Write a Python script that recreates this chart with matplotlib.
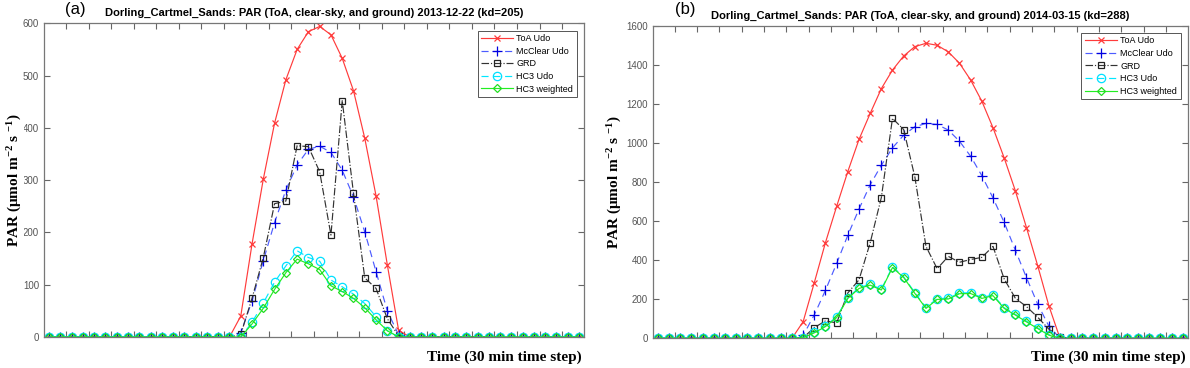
import numpy as np
import matplotlib
matplotlib.use("Agg")
import matplotlib.pyplot as plt

plt.rcParams['font.family'] = ['Liberation Sans', 'DejaVu Sans']
plt.rcParams['mathtext.fontset'] = 'custom'
plt.rcParams['mathtext.rm'] = 'Liberation Serif:bold'
plt.rcParams['mathtext.it'] = 'Liberation Serif:bold'
plt.rcParams['mathtext.bf'] = 'Liberation Serif:bold'

# half-hour steps, 48 per day
steps = np.arange(1, 49)

def day(vals, start):
    out = np.zeros(48)
    out[start - 1:start - 1 + len(vals)] = vals
    return out

# (a) 2013-12-22
toa_a = day([40, 178, 302, 409, 492, 550, 584, 594, 578, 533, 471, 380, 270, 138, 13], 18)
mcc_a = day([8, 69, 146, 219, 281, 329, 359, 365, 353, 319, 268, 201, 125, 50, 4], 18)
grd_a = day([5, 74, 152, 255, 260, 366, 364, 316, 195, 452, 275, 113, 93, 35, 2], 18)
hc3_a = day([28, 65, 105, 136, 165, 152, 145, 109, 96, 82, 64, 39, 12], 19)
hcw_a = day([25, 55, 91, 123, 149, 140, 129, 98, 87, 74, 56, 33, 12], 19)

# (b) 2014-03-15
toa_b = day([85, 285, 490, 675, 853, 1017, 1150, 1277, 1372, 1444, 1492, 1509, 1499,
             1465, 1407, 1321, 1213, 1077, 923, 755, 566, 372, 167], 14)
mcc_b = day([15, 120, 246, 383, 527, 661, 785, 885, 974, 1039, 1082, 1099, 1094,
             1065, 1008, 931, 832, 718, 593, 451, 310, 175, 63], 14)
grd_b = day([3, 55, 89, 79, 232, 299, 488, 720, 1125, 1068, 826, 470, 356, 419,
             389, 403, 414, 470, 304, 205, 162, 108, 47, 8], 14)
hc3_b = day([4, 31, 64, 110, 208, 259, 276, 251, 366, 315, 234, 157, 203, 205,
             232, 233, 208, 222, 157, 123, 88, 54, 19], 14)
hcw_b = day([3, 28, 60, 106, 204, 255, 272, 247, 362, 311, 230, 153, 199, 201,
             228, 229, 204, 218, 153, 119, 84, 50, 16], 14)

series_names = ['ToA Udo', 'McClear Udo', 'GRD', 'HC3 Udo', 'HC3 weighted']
styles = [
    dict(color='#ff3b3b', ls='-', marker='x', mec='#ff3b3b'),
    dict(color='#4d5cff', ls=(0, (6, 4)), marker='+', mec='#0000e0'),
    dict(color='#333333', ls='-.', marker='s', mec='#222222', mfc='none'),
    dict(color='#00e8ff', ls=(0, (6, 4)), marker='o', mec='#00e0ff', mfc='none'),
    dict(color='#22ee22', ls='-', marker='D', mec='#22dd22', mfc='none'),
]
marker_sizes = [5, 7, 4.5, 6, 4]

panels = [
    dict(pos=[0.037, 0.0842, 0.4538, 0.8525], data=[toa_a, mcc_a, grd_a, hc3_a, hcw_a],
         ylim=(0, 600), yticks=np.arange(0, 601, 100), letter='(a)', letter_x=0.055,
         title='Dorling_Cartmel_Sands: PAR (ToA, clear-sky, and ground) 2013-12-22 (kd=205)',
         ylab_x=0.0125),
    dict(pos=[0.5487, 0.0807, 0.4495, 0.85], data=[toa_b, mcc_b, grd_b, hc3_b, hcw_b],
         ylim=(0, 1600), yticks=np.arange(0, 1601, 200), letter='(b)', letter_x=0.567,
         title='Dorling_Cartmel_Sands: PAR (ToA, clear-sky, and ground) 2014-03-15 (kd=288)',
         ylab_x=0.5165),
]

fig = plt.figure(figsize=(11.9, 3.68), dpi=100)

for p in panels:
    ax = fig.add_axes(p['pos'])
    for vals, name, st, ms in zip(p['data'], series_names, styles, marker_sizes):
        ax.plot(steps, vals, label=name, lw=0.85, ms=ms, mew=0.9, **st)
    ax.set_xlim(0.55, 48.45)
    ax.set_ylim(*p['ylim'])
    ax.set_yticks(p['yticks'])
    ax.set_xticks(np.arange(2.5, 48, 2))
    ax.set_xticklabels([])
    ax.tick_params(direction='in', top=True, right=True, length=4, width=0.8,
                   colors='#666666', labelsize=7, labelcolor='#555555')
    for s in ax.spines.values():
        s.set_color('#777777')
        s.set_linewidth(0.9)
    ax.set_title(p['title'], fontsize=8, fontweight='bold', pad=5)
    leg = ax.legend(loc='upper right', fontsize=6.5, fancybox=False, framealpha=1,
                    edgecolor='#555555', handlelength=3.5, borderpad=0.4,
                    labelspacing=0.4, handletextpad=0.4, borderaxespad=0.8)
    leg.get_frame().set_linewidth(0.7)
    fig.text(p['letter_x'], 0.995, p['letter'], fontsize=12, va='top', ha='left')
    x0, y0, w, h = p['pos']
    fig.text(x0 + w - 0.002, 0.03, 'Time (30 min time step)', fontsize=11,
             fontweight='bold', family='Liberation Serif', ha='right', va='center')
    fig.text(p['ylab_x'], y0 + h / 2, r'PAR (μmol m$^{-2}$ s $^{-1}$)', fontsize=11,
             fontweight='bold', family='Liberation Serif', rotation=90,
             ha='center', va='center',
             bbox=dict(facecolor='white', edgecolor='none', pad=0))

fig.savefig('out.png', dpi=100)
